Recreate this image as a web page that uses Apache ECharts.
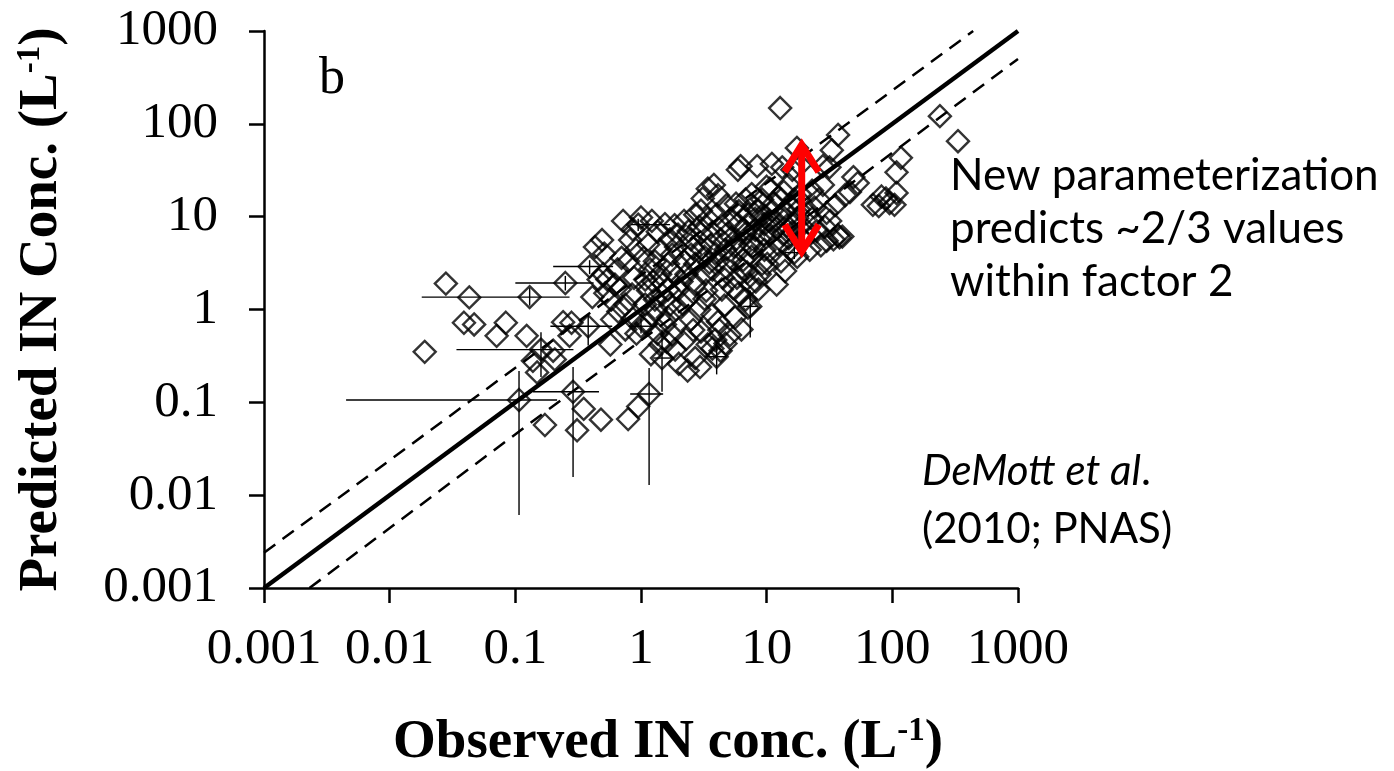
<!DOCTYPE html>
<html>
<head>
<meta charset="utf-8">
<script src="https://cdn.jsdelivr.net/npm/echarts@6/dist/echarts.min.js"></script>
<style>
  html, body { margin: 0; padding: 0; background: #fff; }
  #chart { width: 1394px; height: 771px; }
</style>
</head>
<body>
<div id="chart"></div>
<script>
// Axis decades and their labels (both axes share them)
const tickLabels = ['0.001', '0.01', '0.1', '1', '10', '100', '1000'];
const axisMin = 0.001;
const axisMax = 1000;

// Observed vs predicted IN concentrations (L^-1), one pair per sample
const samples = [
  // low observed concentrations
  [0.019, 0.35], [0.028, 1.9], [0.043, 1.35], [0.039, 0.72], [0.047, 0.69], [0.071, 0.52],
  [0.084, 0.72], [0.123, 0.52], [0.138, 0.28], [0.149, 0.21], [0.206, 0.29], [0.172, 0.057],
  [0.31, 0.05], [0.35, 0.085], [0.48, 0.065], [0.79, 0.066], [0.95, 0.09], [0.24, 0.73],
  [0.28, 0.72], [0.27, 0.52], [0.2, 0.36], [0.49, 5.6], [0.43, 4.7], [0.51, 4.0],
  [0.41, 1.36], [0.46, 2.1], [0.52, 1.5],
  // 0.5 - 1
  [0.5, 2.4], [0.54, 2.1], [0.62, 1.85], [0.68, 1.65], [0.58, 1.28], [0.75, 1.13],
  [0.85, 1.45], [0.65, 2.7], [0.79, 3.3], [0.91, 4.4], [0.82, 5.6], [0.59, 0.78],
  [0.75, 0.61], [0.86, 0.8], [0.57, 0.42], [0.72, 9.0], [1.0, 9.8], [0.86, 7.3],
  [0.66, 0.95], [0.92, 0.55], [0.88, 2.2], [0.7, 3.6],
  // 1 - 2
  [1.08, 2.1], [1.18, 2.7], [1.29, 3.3], [1.42, 2.4], [1.64, 3.1], [1.77, 3.9], [1.9, 4.7],
  [1.14, 1.6], [1.29, 1.28], [1.47, 1.45], [1.7, 1.13], [1.97, 1.64], [1.08, 1.13],
  [1.22, 0.88], [1.55, 0.69], [1.76, 0.54], [1.42, 0.42], [1.87, 0.37], [2.0, 0.26],
  [1.64, 0.82], [1.36, 6.9], [1.55, 8.3], [1.22, 9.0], [1.7, 5.7], [1.42, 4.4], [1.85, 8.1],
  [1.14, 5.0], [1.05, 3.6], [1.97, 6.4], [1.32, 1.0], [1.64, 1.64], [1.25, 2.0], [1.5, 1.9],
  [1.8, 2.5], [1.1, 0.7], [1.35, 0.55], [1.6, 0.45], [1.9, 1.0], [1.2, 0.33],
  // 2 - 5
  [2.2, 3.3], [2.5, 3.9], [2.7, 3.1], [3.0, 4.5], [3.2, 3.7], [3.6, 5.0], [3.9, 4.0],
  [4.3, 5.7], [4.7, 4.4], [2.5, 5.7], [3.0, 6.6], [3.7, 6.8], [4.4, 8.1], [4.9, 6.6],
  [2.3, 2.4], [2.7, 1.86], [3.2, 2.4], [3.7, 2.7], [4.1, 3.3], [4.8, 2.8], [2.4, 1.35],
  [2.9, 1.0], [3.2, 1.3], [3.7, 0.88], [2.5, 0.78], [3.0, 0.58], [3.4, 0.42], [3.9, 0.47],
  [4.3, 0.36], [4.7, 0.43], [5.1, 0.53], [3.7, 0.38], [2.7, 0.3], [2.35, 0.22], [2.95, 0.24],
  [4.1, 0.74], [2.28, 0.48], [3.4, 20], [3.8, 22], [4.1, 17], [3.1, 15.7], [2.7, 10.5],
  [2.2, 9.0], [3.0, 11.6], [4.8, 13.3], [4.4, 1.64], [2.6, 4.6], [2.1, 2.0], [3.5, 3.2],
  [4.5, 2.2], [2.9, 7.8], [3.4, 9.5], [4.0, 10.5], [2.4, 7.0], [4.6, 1.1], [3.3, 1.6],
  [2.15, 1.15], [4.2, 0.6], [2.6, 0.6],
  // 5 - 10
  [5.7, 5.7], [6.2, 4.4], [6.8, 6.6], [7.4, 5.0], [8.1, 7.2], [8.8, 5.7], [9.6, 8.3],
  [5.9, 8.3], [7.1, 10.5], [8.6, 11.6], [5.3, 3.5], [6.3, 2.8], [7.6, 3.7], [9.2, 3.1],
  [5.8, 2.2], [7.4, 1.86], [6.8, 1.28], [8.6, 1.64], [5.6, 0.82], [6.3, 0.61], [7.1, 1.05],
  [5.9, 32], [6.8, 15.3], [7.6, 17.5], [9.2, 15.3], [10, 21], [5.7, 13.8], [8.1, 9.5],
  [9.6, 4.4], [8.8, 2.4], [6.6, 7.2], [5.4, 1.7], [6.2, 35], [8.4, 35], [5.2, 9.5],
  [6.0, 11.5], [7.8, 13], [9.0, 10], [6.5, 3.4], [8.0, 4.6], [7.0, 2.5], [9.5, 6.5],
  [5.5, 4.8], [8.2, 2.0], [6.0, 1.5],
  // 10 - 20
  [10.6, 6.4], [11.8, 9.0], [13, 10.5], [14, 11.6], [15.4, 13.3], [16.6, 15.3], [18.4, 17.5],
  [11, 11.6], [12.4, 16], [13.7, 18.5], [15, 22], [16, 32], [18.4, 36], [13.3, 34],
  [16.6, 8.3], [15, 5.9], [12.4, 5.0], [11, 4.0], [10.1, 3.1], [13, 3.3], [15.4, 4.4],
  [14, 2.6], [17.5, 3.7], [19.6, 5.7], [12, 1.86], [17.5, 9.6], [10.6, 20], [12.8, 148],
  [17.4, 55], [11, 37], [12, 7.5], [14.5, 8.0], [11.5, 14], [10.5, 9.0], [13.5, 6.5],
  [18, 12], [16, 6.8], [19, 8],
  // 20 - 50
  [21, 11], [23, 9.5], [23, 19], [26, 15.3], [28, 22], [31.6, 34], [37, 76], [33, 52],
  [28, 35], [30, 11], [35, 13.3], [30, 5.5], [37, 6.3], [27, 4.9], [22, 4.4], [40, 6.1],
  [42, 17], [49, 26.7], [46, 18.4], [53, 23], [25, 7.0], [29, 7.8], [34, 5.7], [38, 6.0],
  [24, 12.5], [32, 9],
  // above 50
  [70, 13.4], [82, 16.5], [89, 15.7], [104, 13.4], [108, 18], [117, 43], [108, 30],
  [239, 121], [333, 65], [78, 13], [95, 14]
];

// Samples with uncertainty: [observed, predicted, obsLow, obsHigh, predLow, predHigh]
const errorSamples = [
  [0.107, 0.106, 0.0045, 0.215, 0.0061, 0.217],
  [0.288, 0.13, 0.138, 0.463, 0.0157, 0.24],
  [1.16, 0.123, 0.82, 1.5, 0.0129, 0.234],
  [0.16, 0.37, 0.034, 0.29, 0.187, 0.57],
  [0.38, 0.66, 0.19, 0.59, 0.41, 0.87],
  [0.13, 1.36, 0.018, 0.27, 1.1, 1.7],
  [0.25, 1.93, 0.1, 0.42, 1.6, 2.3],
  [0.39, 2.9, 0.2, 0.6, 2.4, 3.4],
  [0.95, 8.2, 0.83, 1.7, 7, 9.5],
  [1.47, 0.30, 1.25, 1.75, 0.13, 0.61],
  [4.0, 0.31, 3.3, 4.8, 0.2, 0.45],
  [1.0, 0.66, 0.8, 1.3, 0.55, 0.8],
  [16.6, 4.1, 14, 19, 3.5, 4.8],
  [7.4, 1.08, 6.5, 8.5, 0.5, 1.6]
];

// 1:1 line and the bounding dashed lines
const oneToOne = [[0.001, 0.001], [1000, 1000]];
const upperBound = [[0.001, 0.0024], [440, 1000]];
const lowerBound = [[0.0023, 0.001], [1000, 500]];

// Red double arrow marking the spread band
const arrowObserved = 19;
const arrowTop = 64;
const arrowBottom = 3.9;

const serif = "'Liberation Serif', 'Times New Roman', serif";
const sans = "Lato, 'Open Sans', sans-serif";

const chart = echarts.init(document.getElementById('chart'), null, { renderer: 'canvas' });

function logAxis(extra) {
  return Object.assign({
    type: 'log',
    logBase: 10,
    min: axisMin,
    max: axisMax,
    splitNumber: 6,
    axisLine: { show: true, onZero: false, lineStyle: { color: '#000', width: 2.5 } },
    axisTick: { show: true, inside: false, length: 15, lineStyle: { color: '#000', width: 2.5 } },
    minorTick: { show: false },
    splitLine: { show: false },
    nameLocation: 'middle'
  }, extra);
}

function titleStyle(padding) {
  return {
    fontFamily: serif, fontWeight: 'bold', fontSize: 55, color: '#000', padding: padding,
    rich: { sup: { fontFamily: serif, fontWeight: 'bold', fontSize: 33, color: '#000', verticalAlign: 'top' } }
  };
}

function tickFormatter(v) {
  return tickLabels[Math.round(Math.log10(v)) + 3];
}

const option = {
  animation: false,
  backgroundColor: '#fff',
  grid: {
    left: 264, right: 376, top: 31, bottom: 183,
    containLabel: false, outerBoundsMode: 'none'
  },
  xAxis: logAxis({
    name: 'Observed IN conc. (L{sup|-1})',
    nameGap: 127,
    nameTextStyle: titleStyle([0, 0, 0, 54]),
    axisLabel: { margin: 36, fontFamily: serif, fontSize: 51, color: '#000', formatter: tickFormatter }
  }),
  yAxis: logAxis({
    name: 'Predicted IN Conc. (L{sup|-1})',
    nameGap: 195,
    nameTextStyle: titleStyle(0),
    axisLabel: { margin: 46, fontFamily: serif, fontSize: 51, color: '#000', formatter: tickFormatter }
  }),
  graphic: [
    {
      type: 'text', left: 319, top: 53, silent: true,
      style: { text: 'b', font: '52px ' + serif, fill: '#000' }
    },
    {
      type: 'text', left: 950, top: 149, silent: true,
      style: {
        text: 'New parameterization\npredicts ~2/3 values\nwithin factor 2',
        font: '44px ' + sans, lineHeight: 53, fill: '#000'
      }
    },
    {
      type: 'text', left: 922, top: 442, silent: true,
      style: {
        text: '{i|DeMott et al}.\n(2010; PNAS)',
        font: '42px ' + sans, lineHeight: 58, fill: '#000',
        rich: { i: { font: 'italic 42px ' + sans, fill: '#000' } }
      }
    }
  ],
  series: [
    {
      type: 'line', data: oneToOne, showSymbol: false, silent: true,
      lineStyle: { color: '#000', width: 4.5 }, z: 2
    },
    {
      type: 'line', data: upperBound, showSymbol: false, silent: true,
      lineStyle: { color: '#000', width: 2.5, type: [14, 9] }, z: 2
    },
    {
      type: 'line', data: lowerBound, showSymbol: false, silent: true,
      lineStyle: { color: '#000', width: 2.5, type: [14, 9] }, z: 2
    },
    {
      // uncertainty whiskers
      type: 'custom', silent: true, z: 3,
      data: errorSamples,
      renderItem: function (params, api) {
        const c = api.coord([api.value(0), api.value(1)]);
        const xl = api.coord([api.value(2), api.value(1)]);
        const xh = api.coord([api.value(3), api.value(1)]);
        const yl = api.coord([api.value(0), api.value(4)]);
        const yh = api.coord([api.value(0), api.value(5)]);
        const st = { stroke: '#000', lineWidth: 1.4 };
        return {
          type: 'group',
          children: [
            { type: 'line', shape: { x1: xl[0], y1: c[1], x2: xh[0], y2: c[1] }, style: st },
            { type: 'line', shape: { x1: c[0], y1: yl[1], x2: c[0], y2: yh[1] }, style: st }
          ]
        };
      }
    },
    {
      type: 'scatter', silent: true, z: 4,
      data: samples.concat(errorSamples.map(function (d) { return [d[0], d[1]]; })),
      symbol: 'diamond', symbolSize: 22,
      itemStyle: { color: 'rgba(0,0,0,0)', borderColor: '#000', borderWidth: 2.4 }
    },
    {
      // red double-headed arrow
      type: 'custom', silent: true, z: 10,
      data: [[arrowObserved, arrowTop, arrowBottom]],
      renderItem: function (params, api) {
        const t = api.coord([api.value(0), api.value(1)]);
        const b = api.coord([api.value(0), api.value(2)]);
        const red = '#ff0000';
        const st = { stroke: red, lineWidth: 7, fill: null, lineJoin: 'miter', lineCap: 'butt' };
        const hw = 17, hl = 30;
        return {
          type: 'group',
          children: [
            { type: 'line', shape: { x1: t[0], y1: t[1] + 4, x2: b[0], y2: b[1] - 4 }, style: st },
            { type: 'polyline', shape: { points: [[t[0] - hw, t[1] + hl], [t[0], t[1] + 3], [t[0] + hw, t[1] + hl]] }, style: st },
            { type: 'polyline', shape: { points: [[b[0] - hw, b[1] - hl], [b[0], b[1] - 3], [b[0] + hw, b[1] - hl]] }, style: st }
          ]
        };
      }
    }
  ]
};

chart.setOption(option);
</script>
</body>
</html>
